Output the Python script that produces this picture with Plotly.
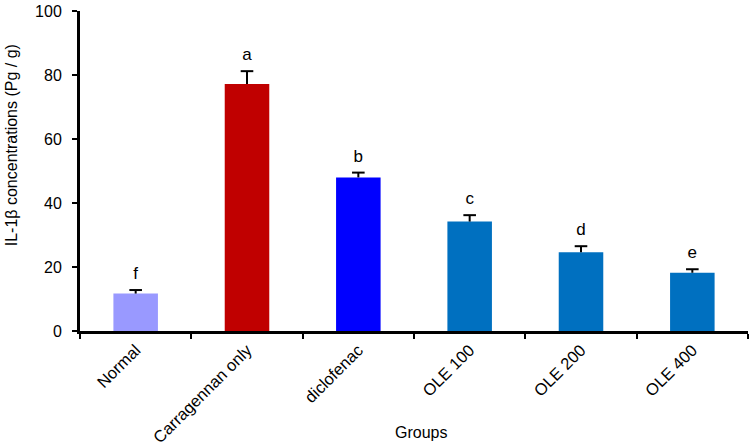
import plotly.graph_objects as go

groups = ["Normal", "Carragennan only", "diclofenac", "OLE 100", "OLE 200", "OLE 400"]
values = [11.7, 77.2, 48.0, 34.2, 24.6, 18.2]
errors = [1.1, 4.0, 1.5, 2.0, 1.9, 1.1]
letters = ["f", "a", "b", "c", "d", "e"]
colors = ["#9999FF", "#C00000", "#0000FF", "#0070C0", "#0070C0", "#0070C0"]

font_family = "Liberation Sans, Arial, sans-serif"

tops = [v + e for v, e in zip(values, errors)]
stem_x, stem_y = [], []
for g, v, t in zip(groups, values, tops):
    stem_x += [g, g, None]
    stem_y += [v, t, None]

fig = go.Figure()
fig.add_trace(go.Bar(
    x=groups, y=values,
    marker=dict(color=colors, line=dict(width=0)),
    width=0.4, showlegend=False,
))
fig.add_trace(go.Scatter(
    x=stem_x, y=stem_y, mode="lines",
    line=dict(color="black", width=2), showlegend=False, hoverinfo="skip",
))
fig.add_trace(go.Scatter(
    x=groups, y=tops, mode="markers+text",
    marker=dict(symbol="line-ew", size=9, line=dict(color="black", width=2), color="black"),
    text=letters, textposition="top center",
    textfont=dict(family=font_family, size=17, color="black"),
    showlegend=False, cliponaxis=False,
))

fig.update_layout(
    width=749, height=446,
    margin=dict(l=80, r=1, t=11, b=115),
    plot_bgcolor="white", paper_bgcolor="white",
    font=dict(family=font_family, size=16, color="black"),
    annotations=[
        dict(text="IL-1β concentrations (Pg / g)", textangle=-90, x=-0.103, y=0.581,
             xref="paper", yref="paper", xanchor="center", yanchor="middle",
             showarrow=False, font=dict(size=16)),
        dict(text="Groups", x=0.51, y=-0.316, xref="paper", yref="paper",
             xanchor="center", yanchor="middle", showarrow=False, font=dict(size=16)),
    ],
)
fig.update_xaxes(
    type="category", tickangle=-45, showline=True, linecolor="black", linewidth=3,
    ticks="outside", tickson="boundaries", ticklen=5, tickwidth=2, tickcolor="black",
    showgrid=False, automargin=False, tickfont=dict(size=16.5),
    range=[-0.5, 5.5],
)
fig.update_yaxes(
    range=[0, 100], dtick=20, showline=True, linecolor="black", linewidth=3,
    ticks="outside", ticklen=5, tickwidth=2, tickcolor="black", showgrid=False,
    zeroline=False, automargin=False, tickfont=dict(size=16), ticklabelstandoff=7,
)

fig.write_html("out.html", config={"displayModeBar": False},
               post_script="document.body.style.margin='0';")
